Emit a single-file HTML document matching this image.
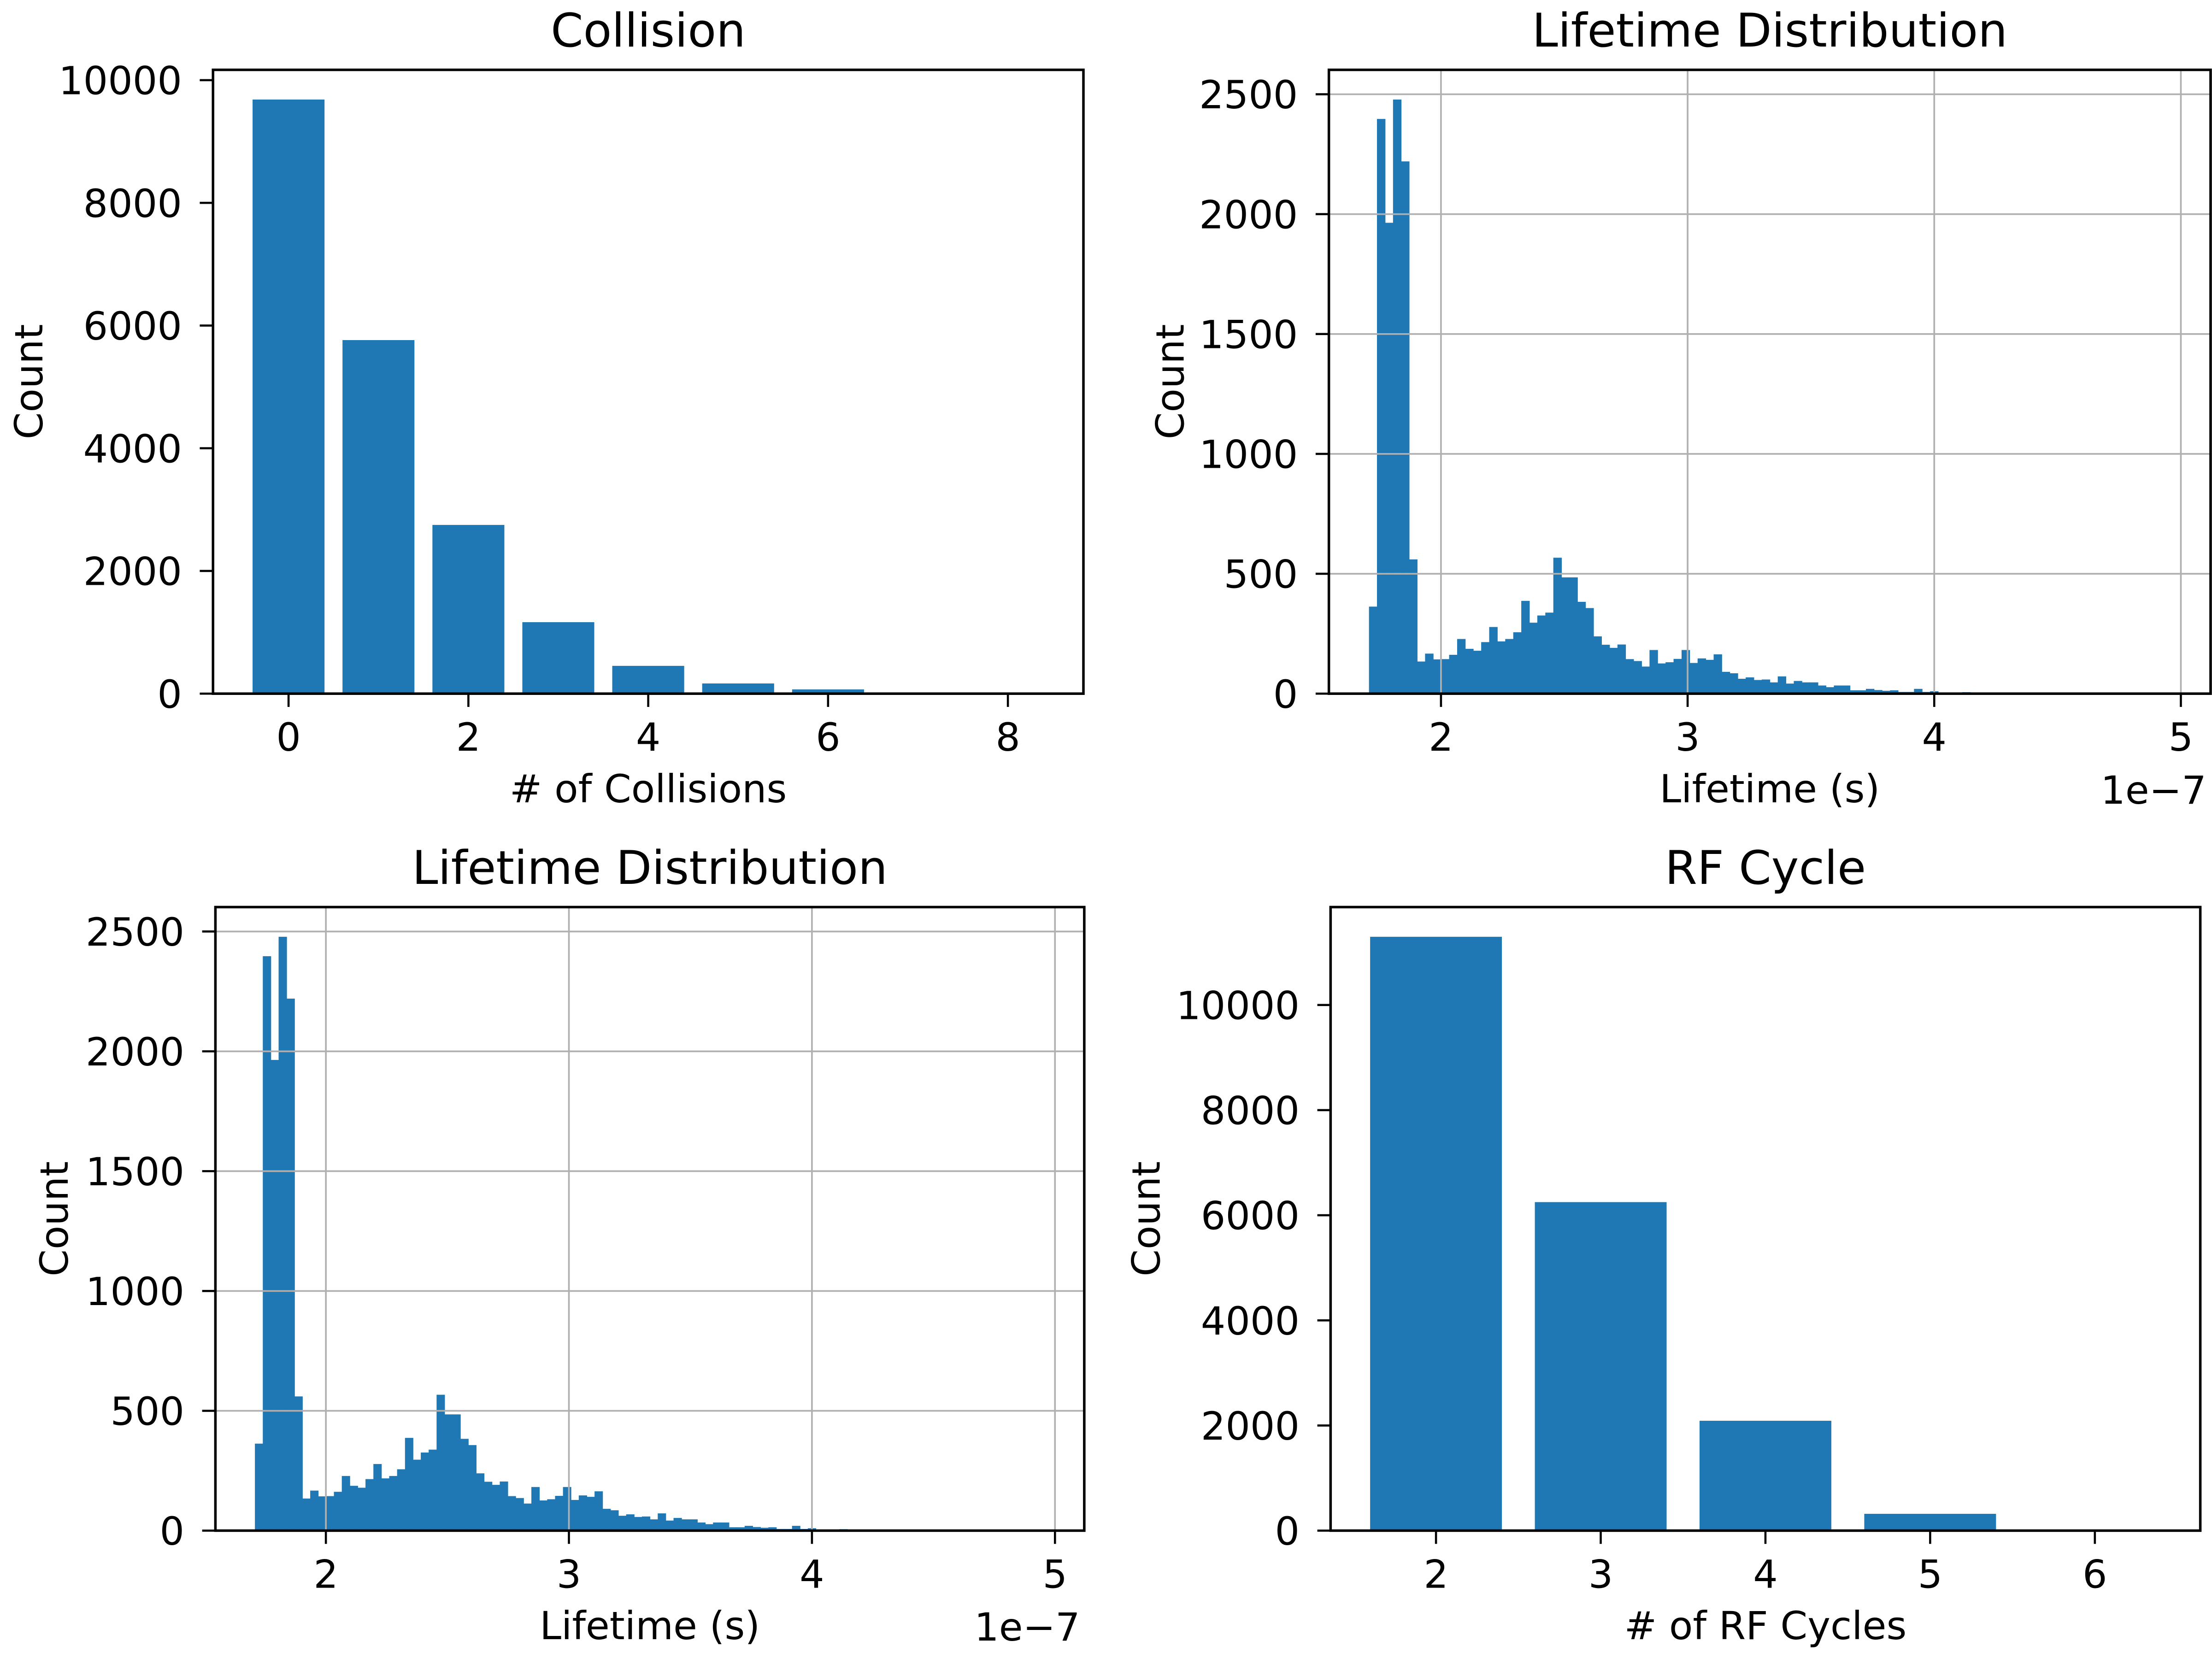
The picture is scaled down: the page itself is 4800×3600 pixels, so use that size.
<!DOCTYPE html>
<html><head><meta charset="utf-8"><style>
html,body{margin:0;padding:0;background:#fff;}
svg{display:block;}
text{font-family:"DejaVu Sans","Liberation Sans",sans-serif;fill:#000;}
</style></head>
<body>
<svg id="fig" xmlns="http://www.w3.org/2000/svg" width="4800" height="3600" viewBox="0 0 1568 1176"></svg>
<script>
// ---- data ----
const collisionCats = [0,1,2,3,4,5,6,7,8];
const collisionCounts = [9684,5763,2750,1165,453,166,69,15,5];
const rfCats = [2,3,4,5,6];
const rfCounts = [11298,6250,2090,320,5];
const lifetimeBinStart = 1.708;
const lifetimeBinWidth = 0.0325;
const lifetimeCounts = [363,2397,1964,2478,2220,560,134,167,143,144,162,228,187,179,215,278,218,228,256,387,296,326,338,567,485,485,383,357,239,204,191,205,144,136,113,182,126,131,145,182,128,147,141,164,91,85,62,68,57,59,47,72,42,53,47,47,34,27,34,34,14,14,20,15,12,14,7,7,20,7,10,4,4,2,6,3,2,1,1,1,0,1,0,0,1,0,0,0,0,0,0,0,0,0,0,0,0,0,0,1];
const collisionXTicks = [0,2,4,6,8];
const collisionYTicks = [0,2000,4000,6000,8000,10000];
const lifeXTicks = [2,3,4,5];
const lifeYTicks = [0,500,1000,1500,2000,2500];
const rfXTicks = [2,3,4,5,6];
const rfYTicks = [0,2000,4000,6000,8000,10000];

const NS="http://www.w3.org/2000/svg";
const svg=document.getElementById('fig');
const BLUE="#1f77b4";
function mk(tag,attrs,parent){const e=document.createElementNS(NS,tag);for(const k in attrs)e.setAttribute(k,attrs[k]);(parent||svg).appendChild(e);return e;}
function txt(s,attrs,parent){const e=mk('text',attrs,parent);e.textContent=s;return e;}

function panel(cfg){
  const g=mk('g',{});
  
  
  const sx=v=>cfg.l+(v-cfg.xmin)/(cfg.xmax-cfg.xmin)*(cfg.r-cfg.l);
  const sy=v=>cfg.b-(v-cfg.ymin)/(cfg.ymax-cfg.ymin)*(cfg.b-cfg.t);
  // bars
  cfg.bars(g,sx,sy);
  // grid
  if(cfg.grid){
    cfg.xt.forEach(v=>{const ln=mk('line',{x1:sx(v),x2:sx(v),y1:cfg.t,y2:cfg.b,stroke:'#b0b0b0','stroke-width':1.2},g);
      
      });
    cfg.yt.forEach(v=>{const ln=mk('line',{x1:cfg.l,x2:cfg.r,y1:sy(v),y2:sy(v),stroke:'#b0b0b0','stroke-width':1.2},g);
      
      });
  }
  // spines
  const fr=mk('rect',{x:cfg.l,y:cfg.t,width:cfg.r-cfg.l,height:cfg.b-cfg.t,fill:'none',stroke:'#000','stroke-width':1.8},g);
  
  
  // ticks
  cfg.xt.forEach(v=>{
    mk('line',{x1:sx(v),x2:sx(v),y1:cfg.b,y2:cfg.b+9.4,stroke:'#000','stroke-width':1.5},g);
    const t=txt(cfg.xfmt?cfg.xfmt(v):String(v),{x:sx(v),y:cfg.b+40.5,'text-anchor':'middle','font-size':27.5},g);
    
    
  });
  cfg.yt.forEach(v=>{
    mk('line',{x1:cfg.l-9.4,x2:cfg.l,y1:sy(v),y2:sy(v),stroke:'#000','stroke-width':1.5},g);
    const t=txt(String(v),{x:cfg.l-22,y:sy(v)+10,'text-anchor':'end','font-size':27.5},g);
    
    
  });
  const ti=txt(cfg.title,{x:(cfg.l+cfg.r)/2,y:cfg.t-16.5,'text-anchor':'middle','font-size':33},g);
  
  
  const xl=txt(cfg.xlabel,{x:(cfg.l+cfg.r)/2,y:cfg.b+77,'text-anchor':'middle','font-size':27.5},g);
  
  
  const cy=(cfg.t+cfg.b)/2;
  const yl=txt('Count',{x:cfg.ylx,y:cy,'text-anchor':'middle','font-size':27.5,transform:`rotate(-90 ${cfg.ylx} ${cy})`},g);
  
  
  if(cfg.offset){
    const ot=txt('1e\u22127',{x:cfg.r-3,y:cfg.b+78,'text-anchor':'end','font-size':27.5},g);
    
    
  }
}

function barChart(cats,vals,name){
  return (g,sx,sy)=>{cats.forEach((c,i)=>{
    const r=mk('rect',{x:sx(c-0.4),y:sy(vals[i]),width:sx(c+0.4)-sx(c-0.4),height:sy(0)-sy(vals[i]),fill:BLUE},g);
    
    
  });};
}
function histChart(g,sx,sy){
  lifetimeCounts.forEach((v,i)=>{
    if(v<=0) return;
    const x0=lifetimeBinStart+i*lifetimeBinWidth, x1=x0+lifetimeBinWidth;
    const r=mk('rect',{x:sx(x0),y:sy(v),width:sx(x1)-sx(x0)+0.3,height:sy(0)-sy(v),fill:BLUE},g);
    
    
  });
}
const lifeMax=lifetimeBinStart+lifetimeCounts.length*lifetimeBinWidth;
const lifeRange=lifeMax-lifetimeBinStart;
const lxmin=lifetimeBinStart-0.05*lifeRange, lxmax=lifeMax+0.05*lifeRange;
const lymax=Math.max(...lifetimeCounts)*1.05;

panel({name:'collision-panel',title:'Collision',xlabel:'# of Collisions',l:151,r:768,t:49.5,b:491.7,
  xmin:-0.84,xmax:8.84,ymin:0,ymax:Math.max(...collisionCounts)*1.05,xt:collisionXTicks,yt:collisionYTicks,
  ylx:30,bars:barChart(collisionCats,collisionCounts,'collision-bar')});
panel({name:'lifetime-panel-top',title:'Lifetime Distribution',xlabel:'Lifetime (s)',l:942,r:1567,t:49.5,b:491.7,
  xmin:lxmin,xmax:lxmax,ymin:0,ymax:lymax,xt:lifeXTicks,yt:lifeYTicks,grid:true,offset:true,
  ylx:839,bars:histChart});
panel({name:'lifetime-panel-bottom',title:'Lifetime Distribution',xlabel:'Lifetime (s)',l:152.7,r:768.6,t:643,b:1085,
  xmin:lxmin,xmax:lxmax,ymin:0,ymax:lymax,xt:lifeXTicks,yt:lifeYTicks,grid:true,offset:true,
  ylx:48,bars:histChart});
panel({name:'rf-cycle-panel',title:'RF Cycle',xlabel:'# of RF Cycles',l:943.2,r:1559.7,t:643,b:1085,
  xmin:1.36,xmax:6.64,ymin:0,ymax:Math.max(...rfCounts)*1.05,xt:rfXTicks,yt:rfYTicks,
  ylx:822,bars:barChart(rfCats,rfCounts,'rf-bar')});
</script>
</body></html>
